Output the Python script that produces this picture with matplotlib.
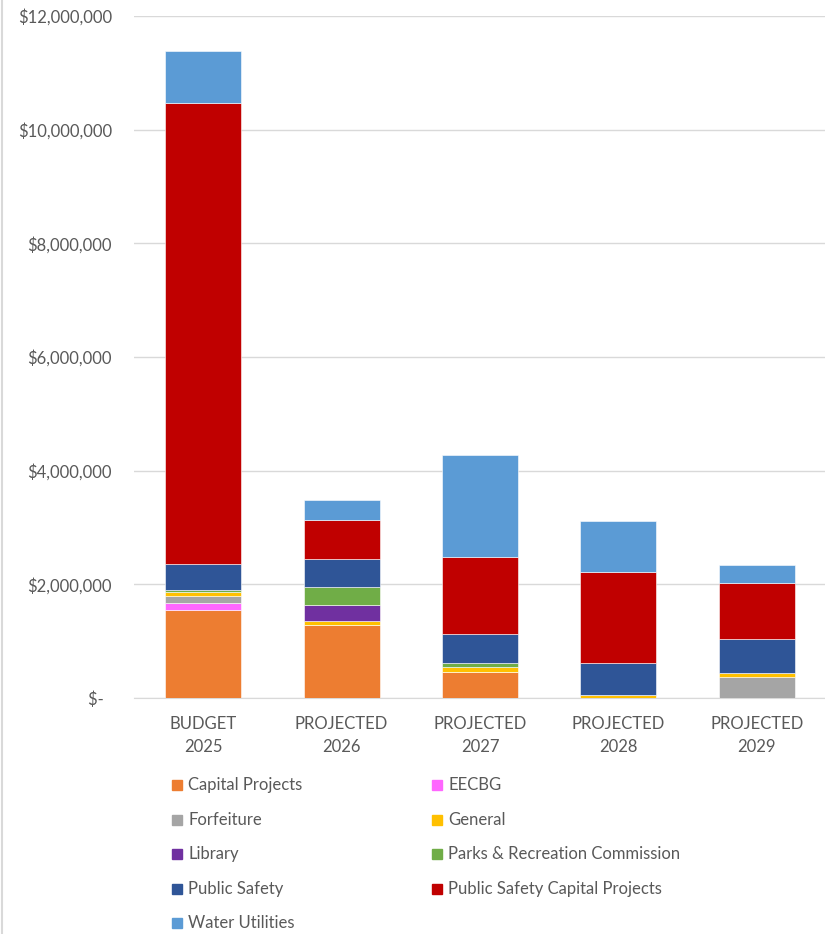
import numpy as np
import matplotlib.pyplot as plt
from matplotlib.patches import Rectangle
from matplotlib.lines import Line2D

# Data
periods = ['BUDGET\n2025', 'PROJECTED\n2026', 'PROJECTED\n2027', 'PROJECTED\n2028', 'PROJECTED\n2029']
series = ['Capital Projects', 'EECBG', 'Forfeiture', 'General', 'Library',
          'Parks & Recreation Commission', 'Public Safety', 'Public Safety Capital Projects',
          'Water Utilities']
capital_projects = [1550000, 1285000, 460000, 0, 0]
eecbg = [125000, 0, 0, 0, 0]
forfeiture = [120000, 0, 0, 0, 370000]
general = [65000, 70000, 77000, 60000, 70000]
library = [0, 280000, 0, 0, 0]
parks_rec = [35000, 317000, 76000, 0, 0]
public_safety = [460000, 490000, 520000, 560000, 590000]
ps_capital = [8120000, 686000, 1355000, 1590000, 1000000]
water_utilities = [910000, 352000, 1795000, 910000, 310000]

values = [capital_projects, eecbg, forfeiture, general, library,
          parks_rec, public_safety, ps_capital, water_utilities]
colors = ['#ED7D31', '#FF66FF', '#A5A5A5', '#FFC000', '#7030A0',
          '#70AD47', '#2F5597', '#C00000', '#5B9BD5']

plt.rcParams['font.family'] = ['Lato', 'DejaVu Sans']
text_color = '#595959'
grid_color = '#D9D9D9'

fig = plt.figure(figsize=(8.25, 9.34), dpi=100)
ax = fig.add_axes([134/825, 1 - 698/934, (826-134)/825, (698-16)/934])

x = np.arange(len(periods))
bottom = np.zeros(len(periods))
for name, vals, c in zip(series, values, colors):
    vals = np.array(vals, dtype=float)
    ax.bar(x, vals, 0.55, bottom=bottom, color=c, edgecolor='white', linewidth=0.4, zorder=3)
    bottom += vals

# Axes styling
ax.set_xlim(-0.5, 4.5)
ax.set_ylim(0, 12000000)
ticks = np.arange(0, 12000001, 2000000)
ax.set_yticks(ticks)
ax.set_yticklabels(['$-  '] + [f'${t:,.0f}' for t in ticks[1:]])
ax.set_xticks(x)
ax.set_xticklabels(periods, linespacing=1.55)
ax.tick_params(length=0, labelsize=12, colors=text_color)
ax.tick_params(axis='y', pad=16)
ax.tick_params(axis='x', pad=13)
ax.grid(axis='y', color=grid_color, linewidth=1, zorder=0)
for s in ['top', 'right', 'left']:
    ax.spines[s].set_visible(False)
ax.spines['bottom'].set_color(grid_color)

# Legend (two columns, row-wise order)
for i, (name, c) in enumerate(zip(series, colors)):
    col, row = i % 2, i // 2
    lx = 172 + col * 260
    ly = 785 + row * 34.6
    fig.patches.append(Rectangle((lx/825, 1 - (ly+5)/934), 10/825, 10/934,
                                 transform=fig.transFigure, color=c))
    fig.text((lx+16)/825, 1 - ly/934, name, fontsize=12, color=text_color, va='center')

# Chart border on the left
fig.lines.append(Line2D([2/825, 2/825], [0, 1], transform=fig.transFigure, color=grid_color, linewidth=1.5))

plt.savefig('out.png', dpi=100)
